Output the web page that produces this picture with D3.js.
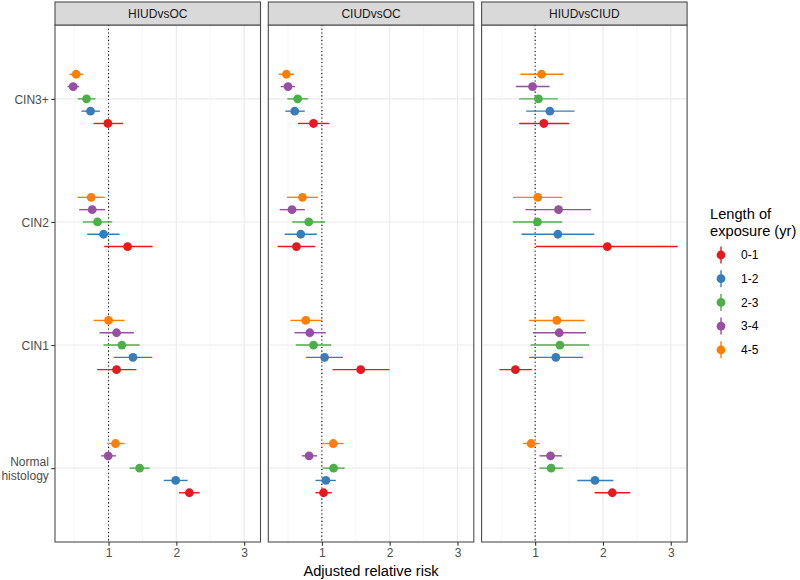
<!DOCTYPE html>
<html>
<head>
<meta charset="utf-8">
<script src="https://cdn.jsdelivr.net/npm/d3@7"></script>
<style>
  html, body { margin: 0; padding: 0; background: #fff; }
  svg { display: block; font-family: "Liberation Sans", Arial, sans-serif; }
</style>
</head>
<body>
<svg id="chart" width="800" height="580"></svg>
<script>
// ---------------- DATA ----------------
const panels = ["HIUDvsOC", "CIUDvsOC", "HIUDvsCIUD"];
const categories = ["CIN3+", "CIN2", "CIN1", "Normal histology"]; // top to bottom
const groups = ["0-1", "1-2", "2-3", "3-4", "4-5"];
const groupColors = ["#E41A1C", "#377EB8", "#4DAF4A", "#984EA3", "#FF7F00"];
const xTicks = [1, 2, 3];
const xMinorTicks = [0.5, 1.5, 2.5];
const legendTitle = ["Length of", "exposure (yr)"];
const xTitle = "Adjusted relative risk";

// rows = categories (top to bottom), columns = groups 0-1 .. 4-5
const est_HIUDvsOC = [
  [0.990, 0.734, 0.675, 0.478, 0.522],
  [1.281, 0.926, 0.837, 0.759, 0.744],
  [1.118, 1.360, 1.197, 1.118, 1.000],
  [2.192, 1.990, 1.458, 0.995, 1.103]
];
const lo_HIUDvsOC = [
  [0.778, 0.601, 0.547, 0.394, 0.424],
  [0.936, 0.685, 0.621, 0.567, 0.542],
  [0.833, 1.074, 0.926, 0.867, 0.778],
  [2.039, 1.813, 1.310, 0.890, 0.980]
];
const hi_HIUDvsOC = [
  [1.212, 0.872, 0.808, 0.567, 0.626],
  [1.650, 1.163, 1.054, 0.951, 0.946],
  [1.409, 1.645, 1.458, 1.374, 1.236],
  [2.345, 2.167, 1.606, 1.108, 1.236]
];

const est_CIUDvsOC = [
  [0.877, 0.600, 0.644, 0.501, 0.477],
  [0.625, 0.689, 0.807, 0.560, 0.714],
  [1.573, 1.040, 0.877, 0.822, 0.763],
  [1.025, 1.059, 1.173, 0.812, 1.168]
];
const lo_CIUDvsOC = [
  [0.649, 0.462, 0.491, 0.393, 0.363],
  [0.348, 0.452, 0.565, 0.378, 0.486],
  [1.158, 0.763, 0.615, 0.595, 0.536],
  [0.906, 0.906, 1.010, 0.704, 1.010]
];
const hi_CIUDvsOC = [
  [1.109, 0.748, 0.798, 0.605, 0.590],
  [0.901, 0.926, 1.049, 0.748, 0.941],
  [1.998, 1.311, 1.138, 1.059, 1.000],
  [1.148, 1.207, 1.336, 0.931, 1.321]
];

const est_HIUDvsCIUD = [
  [1.128, 1.217, 1.049, 0.961, 1.094],
  [2.064, 1.335, 1.034, 1.345, 1.039],
  [0.709, 1.305, 1.365, 1.355, 1.320],
  [2.138, 1.882, 1.236, 1.227, 0.941]
];
const lo_HIUDvsCIUD = [
  [0.764, 0.867, 0.764, 0.714, 0.783],
  [1.010, 0.798, 0.670, 0.857, 0.675],
  [0.473, 0.911, 0.931, 0.966, 0.911],
  [1.877, 1.621, 1.064, 1.064, 0.823]
];
const hi_HIUDvsCIUD = [
  [1.502, 1.581, 1.335, 1.212, 1.419],
  [3.103, 1.872, 1.399, 1.823, 1.399],
  [0.951, 1.709, 1.798, 1.749, 1.729],
  [2.404, 2.153, 1.409, 1.394, 1.069]
];

const panelData = {
  "HIUDvsOC": { est: est_HIUDvsOC, lo: lo_HIUDvsOC, hi: hi_HIUDvsOC },
  "CIUDvsOC": { est: est_CIUDvsOC, lo: lo_CIUDvsOC, hi: hi_CIUDvsOC },
  "HIUDvsCIUD": { est: est_HIUDvsCIUD, lo: lo_HIUDvsCIUD, hi: hi_HIUDvsCIUD }
};

// ---------------- LAYOUT ----------------
const svg = d3.select("#chart");
const plotLeft = 55, panelW = 205.5, panelGap = 7.8;
const stripTop = 2, stripH = 23;
const plotTop = stripTop + stripH, plotBottom = 542;
const FONT = "Liberation Sans, Arial, sans-serif";
const axisFs = 12;

const rows = [];
panels.forEach(p => {
  categories.forEach((c, ci) => {
    groups.forEach((g, gi) => {
      rows.push({ panel: p, cat: c, group: g, gi,
        est: panelData[p].est[ci][gi], lo: panelData[p].lo[ci][gi], hi: panelData[p].hi[ci][gi] });
    });
  });
});

const minV = d3.min(rows, d => d.lo), maxV = d3.max(rows, d => d.hi);
const pad = (maxV - minV) * 0.05;

const color = d3.scaleOrdinal().domain(groups).range(groupColors);
const y = d3.scalePoint().domain(categories).range([plotTop, plotBottom]).padding(0.6);
const step = y.step();
const dodge = d3.scalePoint().domain(groups).range([0.2 * step, -0.2 * step]);

const gridColor = "#EBEBEB";
const borderColor = "#4D4D4D";

panels.forEach((p, pi) => {
  const x0 = plotLeft + pi * (panelW + panelGap);
  const x = d3.scaleLinear().domain([minV - pad, maxV + pad]).range([x0, x0 + panelW]);
  const g = svg.append("g");

  // background grid
  g.selectAll(".minor").data(xMinorTicks).join("line")
    .attr("x1", d => x(d)).attr("x2", d => x(d))
    .attr("y1", plotTop).attr("y2", plotBottom)
    .attr("stroke", "#F2F2F2").attr("stroke-width", 0.6);
  g.selectAll(".major").data(xTicks).join("line")
    .attr("x1", d => x(d)).attr("x2", d => x(d))
    .attr("y1", plotTop).attr("y2", plotBottom)
    .attr("stroke", gridColor).attr("stroke-width", 1.1);
  g.selectAll(".hgrid").data(categories).join("line")
    .attr("x1", x0).attr("x2", x0 + panelW)
    .attr("y1", d => y(d)).attr("y2", d => y(d))
    .attr("stroke", gridColor).attr("stroke-width", 1.1);

  // reference line at 1
  g.append("line")
    .attr("x1", x(1)).attr("x2", x(1))
    .attr("y1", plotTop).attr("y2", plotBottom)
    .attr("stroke", "#000").attr("stroke-width", 1.1)
    .attr("stroke-dasharray", "1.1,2.6");

  // error bars and points
  const pr = rows.filter(r => r.panel === p);
  const pg = g.selectAll(".pr").data(pr).join("g");
  pg.append("line")
    .attr("x1", d => x(d.lo)).attr("x2", d => x(d.hi))
    .attr("y1", d => y(d.cat) + dodge(d.group))
    .attr("y2", d => y(d.cat) + dodge(d.group))
    .attr("stroke", d => color(d.group)).attr("stroke-width", 1.4);
  pg.append("circle")
    .attr("cx", d => x(d.est))
    .attr("cy", d => y(d.cat) + dodge(d.group))
    .attr("r", 4.4)
    .attr("fill", d => color(d.group));

  // panel border
  g.append("rect")
    .attr("x", x0).attr("y", plotTop).attr("width", panelW).attr("height", plotBottom - plotTop)
    .attr("fill", "none").attr("stroke", borderColor).attr("stroke-width", 1.1);

  // strip
  g.append("rect")
    .attr("x", x0).attr("y", stripTop).attr("width", panelW).attr("height", stripH)
    .attr("fill", "#D9D9D9").attr("stroke", borderColor).attr("stroke-width", 1.1);
  g.append("text")
    .attr("x", x0 + panelW / 2).attr("y", stripTop + stripH / 2)
    .attr("dy", "0.36em").attr("text-anchor", "middle")
    .attr("font-size", axisFs).attr("fill", "#1A1A1A").text(p);

  // x axis
  const xAxis = d3.axisBottom(x).tickValues(xTicks).tickSize(3.7).tickPadding(2.5).tickFormat(d3.format("d"));
  const ax = g.append("g").attr("transform", `translate(0,${plotBottom})`).call(xAxis)
    .attr("font-size", axisFs).attr("font-family", FONT);
  ax.select(".domain").remove();
  ax.selectAll(".tick line").attr("stroke", "#333").attr("stroke-width", 1.1);
  ax.selectAll(".tick text").attr("fill", "#4D4D4D");
});

// y axis on first panel
const yAxis = d3.axisLeft(y).tickSize(3.7).tickPadding(2.5).tickFormat(() => "");
const ya = svg.append("g").attr("transform", `translate(${plotLeft},0)`).call(yAxis)
  .attr("font-size", axisFs).attr("font-family", FONT);
ya.select(".domain").remove();
ya.selectAll(".tick line").attr("stroke", "#333").attr("stroke-width", 1.1);
ya.selectAll(".tick text").each(function(d) {
  const t = d3.select(this).attr("fill", "#4D4D4D").attr("dy", null);
  const lines = d === "Normal histology" ? ["Normal", "histology"] : [d];
  const lh = 14;
  lines.forEach((ln, i) => {
    t.append("tspan").attr("x", -6.2)
      .attr("dy", i === 0 ? ((-(lines.length - 1) / 2) * lh + 4.3) : lh)
      .text(ln);
  });
});

// x-axis title
svg.append("text")
  .attr("x", plotLeft + (3 * panelW + 2 * panelGap) / 2).attr("y", 576)
  .attr("text-anchor", "middle").attr("font-size", 14.67).attr("fill", "#000")
  .text(xTitle);

// legend
const lg = svg.append("g");
legendTitle.forEach((t, i) => {
  lg.append("text").attr("x", 710).attr("y", 219 + i * 17)
    .attr("font-size", 14.67).attr("fill", "#000").text(t);
});
const keyY0 = 255, keyStep = 23.7;
groups.forEach((gname, i) => {
  const cy = keyY0 + i * keyStep;
  lg.append("line").attr("x1", 721).attr("x2", 721).attr("y1", cy - 8.5).attr("y2", cy + 8.5)
    .attr("stroke", color(gname)).attr("stroke-width", 1.4);
  lg.append("circle").attr("cx", 721).attr("cy", cy).attr("r", 4.4).attr("fill", color(gname));
  lg.append("text").attr("x", 741).attr("y", cy).attr("dy", "0.36em")
    .attr("font-size", axisFs).attr("fill", "#000").text(gname);
});
</script>
</body>
</html>
